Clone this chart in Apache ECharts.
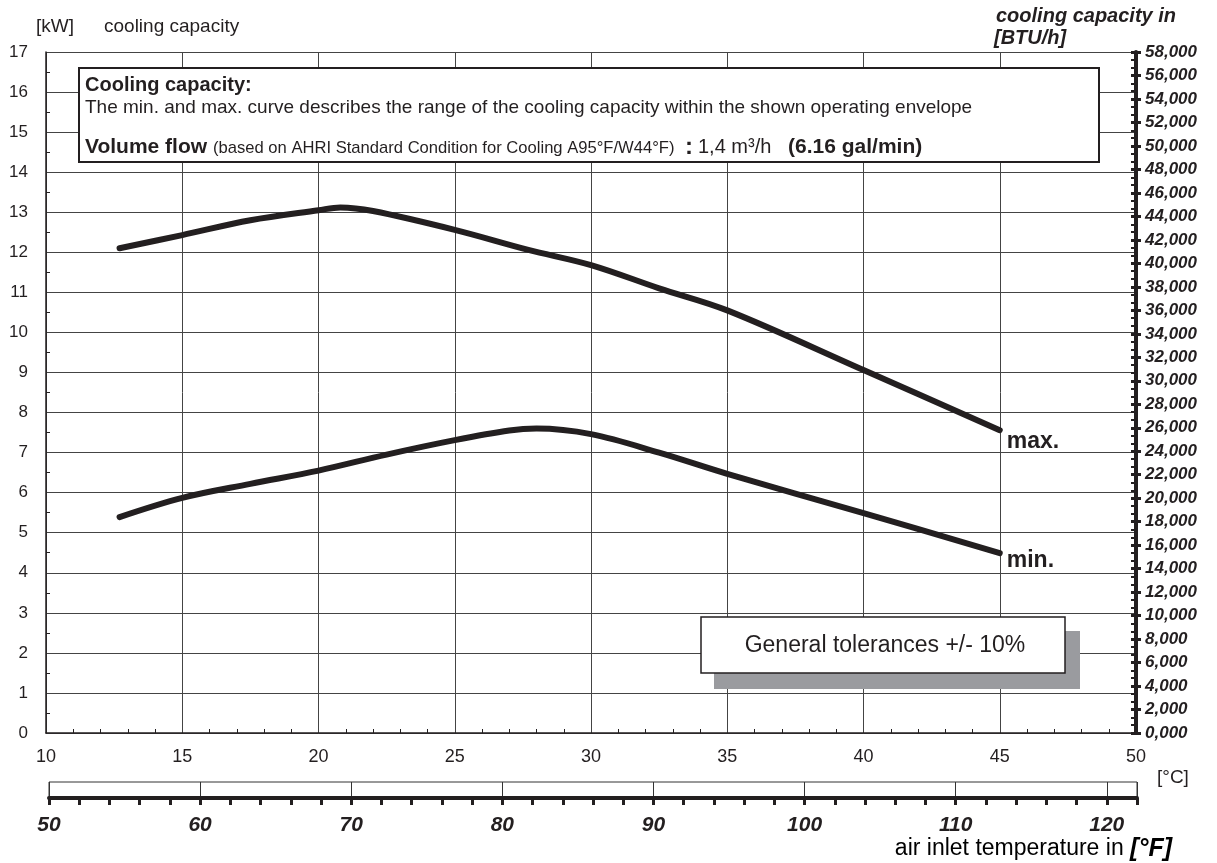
<!DOCTYPE html>
<html>
<head>
<meta charset="utf-8">
<script src="https://cdn.jsdelivr.net/npm/echarts@6/dist/echarts.min.js"></script>
<style>
  html, body { margin: 0; padding: 0; background: #fff; }
  #main { width: 1217px; height: 863px; }
</style>
</head>
<body>
<div id="main"></div>
<script>
var dom = document.getElementById('main');
var myChart = echarts.init(dom, null, { renderer: 'canvas' });

// air inlet temperature [°C] and cooling capacity [kW]
const maxTemps = [12.7, 15, 17.5, 20, 20.8, 22, 25, 27.7, 30, 32.5, 35, 40, 45];
const maxKW = [12.1, 12.43, 12.8, 13.05, 13.12, 13.03, 12.56, 12.06, 11.68, 11.1, 10.55, 9.06, 7.56];
const minTemps = [12.7, 15, 17.5, 20, 22.5, 25, 27, 28, 30, 32.5, 35, 40, 45];
const minKW = [5.39, 5.87, 6.22, 6.55, 6.95, 7.31, 7.55, 7.6, 7.46, 7.0, 6.47, 5.49, 4.49];

const kwToBtu = 3412.14;
const font = 'Liberation Sans, Arial, sans-serif';
const ink = '#231f20';
const gridColor = '#444';

function pairs(xs, ys) {
  return xs.map(function (x, i) { return [x, ys[i]]; });
}

var option = {
  animation: false,
  textStyle: { fontFamily: font, color: ink },
  grid: [
    { left: 46, right: 81, top: 52, bottom: 130 },
    { left: 49, right: 80, top: 782, height: 16, show: true, borderColor: '#333', borderWidth: 1 }
  ],
  xAxis: [
    {
      gridIndex: 0, type: 'value', min: 10, max: 50, interval: 5,
      axisLine: { onZero: false, lineStyle: { color: ink, width: 1.5 } },
      axisTick: { show: false, inside: true },
      minorTick: { show: true, splitNumber: 5, length: 4, lineStyle: { color: ink, width: 1 } },
      axisLabel: { fontFamily: font, fontSize: 18, color: ink, margin: 15 },
      splitLine: { show: true, lineStyle: { color: gridColor, width: 1 } }
    },
    {
      gridIndex: 1, type: 'value', min: 50, max: 122, interval: 2, position: 'bottom',
      axisLine: { onZero: false, lineStyle: { color: ink, width: 4 } },
      axisTick: { show: true, length: 7, lineStyle: { color: ink, width: 3 } },
      axisLabel: { show: false },
      splitLine: { show: false }
    },
    {
      gridIndex: 1, type: 'value', min: 50, max: 122, interval: 10, position: 'bottom',
      axisLine: { show: false, onZero: false },
      axisTick: { show: false },
      axisLabel: {
        fontFamily: font, fontSize: 21, fontWeight: 'bold', fontStyle: 'italic', color: ink, margin: 17,
        showMaxLabel: false,
        formatter: function (v) { return v % 10 === 0 ? String(v) : ''; }
      },
      splitLine: { show: true, lineStyle: { color: '#333', width: 1 } }
    }
  ],
  yAxis: [
    {
      gridIndex: 0, type: 'value', min: 0, max: 17, interval: 1, position: 'left',
      axisLine: { show: true, onZero: false, lineStyle: { color: ink, width: 1.5 } },
      axisTick: { show: false, inside: true },
      minorTick: { show: true, splitNumber: 2, length: 4, lineStyle: { color: ink, width: 1 } },
      axisLabel: { fontFamily: font, fontSize: 17, color: ink, margin: 18 },
      splitLine: { show: true, lineStyle: { color: gridColor, width: 1 } }
    },
    {
      gridIndex: 0, type: 'value', min: 0, max: 17 * kwToBtu, interval: 2000, position: 'right',
      axisLine: { show: true, onZero: false, lineStyle: { color: ink, width: 4 } },
      axisTick: { show: true, length: 5, lineStyle: { color: ink, width: 3 } },
      axisLabel: {
        fontFamily: font, fontSize: 17, fontWeight: 'bold', fontStyle: 'italic', color: ink, margin: 9,
        showMaxLabel: false,
        formatter: function (v) {
          if (v % 2000 !== 0) return '';
          return v === 0 ? '0,000' : v.toLocaleString('en-US');
        }
      },
      splitLine: { show: false }
    },
    {
      gridIndex: 0, type: 'value', min: 0, max: 17 * kwToBtu, interval: 2000, position: 'right',
      axisLine: { show: false, onZero: false },
      axisTick: { show: true, inside: true, length: 5, lineStyle: { color: ink, width: 3 } },
      minorTick: { show: true, splitNumber: 3, length: 5, lineStyle: { color: ink, width: 2 } },
      axisLabel: { show: false },
      splitLine: { show: false }
    },
    { gridIndex: 1, type: 'value', min: 0, max: 1, show: false }
  ],
  series: [
    {
      name: 'max.', type: 'line', xAxisIndex: 0, yAxisIndex: 0,
      data: pairs(maxTemps, maxKW), smooth: 0.35, showSymbol: false,
      lineStyle: { color: ink, width: 6, cap: 'round', join: 'round' },
      endLabel: {
        show: true, formatter: 'max.', fontFamily: font, fontSize: 23, fontWeight: 'bold',
        color: ink, distance: 7, offset: [0, 12]
      }
    },
    {
      name: 'min.', type: 'line', xAxisIndex: 0, yAxisIndex: 0,
      data: pairs(minTemps, minKW), smooth: 0.35, showSymbol: false,
      lineStyle: { color: ink, width: 6, cap: 'round', join: 'round' },
      endLabel: {
        show: true, formatter: 'min.', fontFamily: font, fontSize: 23, fontWeight: 'bold',
        color: ink, distance: 7, offset: [0, 8]
      }
    }
  ],
  graphic: [
    { type: 'text', x: 36, y: 27, style: { text: '[kW]', font: '19px ' + font, fill: ink, verticalAlign: 'middle' } },
    { type: 'text', x: 104, y: 27, style: { text: 'cooling capacity', font: '19px ' + font, fill: ink, verticalAlign: 'middle' } },
    { type: 'text', x: 996, y: 16, style: { text: 'cooling capacity in', font: 'italic bold 20px ' + font, fill: ink, verticalAlign: 'middle' } },
    { type: 'text', x: 994, y: 38, style: { text: '[BTU/h]', font: 'italic bold 20px ' + font, fill: ink, verticalAlign: 'middle' } },
    { type: 'text', x: 1157, y: 778, style: { text: '[°C]', font: '19px ' + font, fill: ink, verticalAlign: 'middle' } },
    {
      type: 'text', x: 1172, y: 849,
      style: {
        text: '{a|air inlet temperature in }{b|[°F]}',
        align: 'right', verticalAlign: 'middle',
        rich: {
          a: { fontFamily: font, fontSize: 23, color: ink },
          b: { fontFamily: font, fontSize: 25, fontWeight: 'bold', fontStyle: 'italic', color: ink }
        }
      }
    },
    // info box
    {
      type: 'rect', z: 10, shape: { x: 79, y: 68, width: 1020, height: 94 },
      style: { fill: '#fff', stroke: '#231f20', lineWidth: 2 }
    },
    { type: 'text', z: 11, x: 85, y: 85, style: { text: 'Cooling capacity:', font: 'bold 20px ' + font, fill: ink, verticalAlign: 'middle' } },
    {
      type: 'text', z: 11, x: 85, y: 108,
      style: { text: 'The min. and max. curve describes the range of the cooling capacity within the shown operating envelope', font: '19px ' + font, fill: ink, verticalAlign: 'middle' }
    },
    { type: 'text', z: 11, x: 85, y: 147, style: { text: 'Volume flow', font: 'bold 21px ' + font, fill: ink, verticalAlign: 'middle' } },
    { type: 'text', z: 11, x: 213, y: 148, style: { text: '(based on AHRI Standard Condition for Cooling A95°F/W44°F)', font: '16.6px ' + font, fill: ink, verticalAlign: 'middle' } },
    { type: 'text', z: 11, x: 685, y: 147, style: { text: ':', font: 'bold 24px ' + font, fill: ink, verticalAlign: 'middle' } },
    { type: 'text', z: 11, x: 698, y: 147, style: { text: '1,4 m³/h', font: '20px ' + font, fill: ink, verticalAlign: 'middle' } },
    { type: 'text', z: 11, x: 788, y: 147, style: { text: '(6.16 gal/min)', font: 'bold 21px ' + font, fill: ink, verticalAlign: 'middle' } },
    // tolerance box with shadow
    {
      type: 'rect', z: 10, shape: { x: 714, y: 631, width: 366, height: 58 },
      style: { fill: '#9a9b9f' }
    },
    {
      type: 'rect', z: 11, shape: { x: 701, y: 617, width: 364, height: 56 },
      style: { fill: '#fff', stroke: '#231f20', lineWidth: 1.5 }
    },
    {
      type: 'text', z: 12, x: 885, y: 646,
      style: { text: 'General tolerances +/- 10%', font: '23px ' + font, fill: ink, align: 'center', verticalAlign: 'middle' }
    }
  ]
};

myChart.setOption(option);
window.addEventListener('resize', myChart.resize);
</script>
</body>
</html>
